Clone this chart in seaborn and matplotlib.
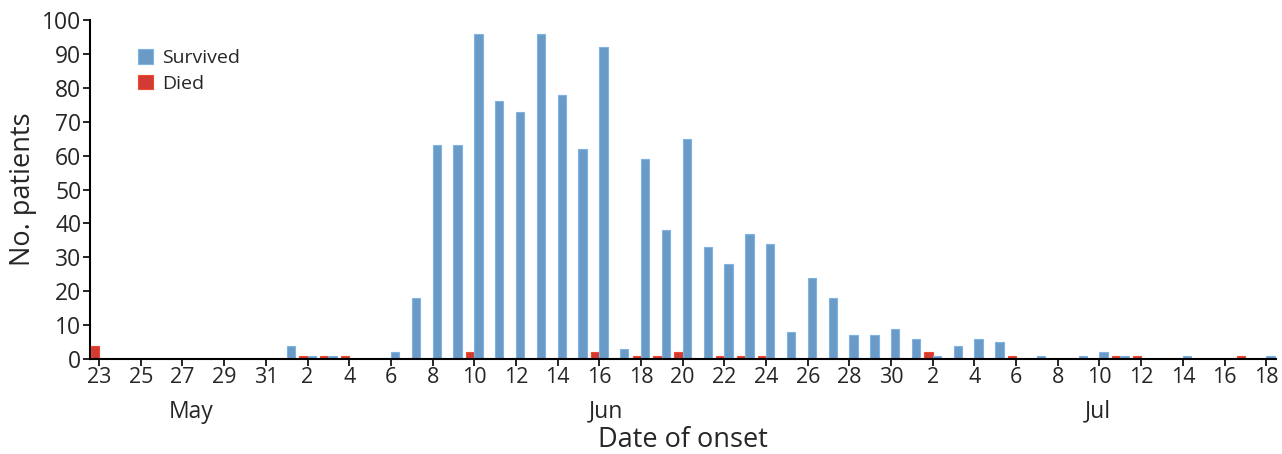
"""
Epidemic curve: patients by date of onset, survived vs. died.
"""

import pandas as pd
import numpy as np
import matplotlib
matplotlib.use("Agg")
import matplotlib.pyplot as plt
import seaborn as sns

# one value per day, May 23 .. Jul 18
dates = pd.date_range("2012-05-23", "2012-07-18", freq="D")

survived = [
    0, 0, 0, 0, 0, 0, 0, 0, 0,                      # May 23-31
    4, 1, 1, 0, 0, 2, 18, 63, 63, 96,               # Jun 1-10
    76, 73, 96, 78, 62, 92, 3, 59, 38, 65,          # Jun 11-20
    33, 28, 37, 34, 8, 24, 18, 7, 7, 9,             # Jun 21-30
    6, 1, 4, 6, 5, 0, 1, 0, 1, 2,                   # Jul 1-10
    1, 0, 0, 1, 0, 0, 0, 1,                         # Jul 11-18
]
died = [
    4, 0, 0, 0, 0, 0, 0, 0, 0,
    0, 1, 1, 1, 0, 0, 0, 0, 0, 2,
    0, 0, 0, 0, 0, 2, 0, 1, 1, 2,
    0, 1, 1, 1, 0, 0, 0, 0, 0, 0,
    0, 2, 0, 0, 0, 1, 0, 0, 0, 0,
    1, 1, 0, 0, 0, 0, 1, 0,
]

month_labels = ["May", "Jun", "Jul"]
month_label_days = [4.4, 24.3, 47.9]

colors = {"Survived": "#5B9BD5", "Died": "#EC2219"}

days = np.arange(len(dates))
df = pd.concat([
    pd.DataFrame({"day": days, "count": survived, "outcome": "Survived"}),
    pd.DataFrame({"day": days, "count": died, "outcome": "Died"}),
])
df = df[df["count"] > 0]

sns.set_style("white")
plt.rcParams["font.family"] = ["Open Sans", "DejaVu Sans"]

fig = plt.figure(figsize=(12.82, 4.54), dpi=100)
ax = fig.add_axes([0.070, 0.209, 0.925, 0.747])

sns.barplot(
    data=df, x="day", y="count", hue="outcome",
    hue_order=["Died", "Survived"], palette=colors,
    native_scale=True, width=0.8, errorbar=None,
    linewidth=0.8, ax=ax,
)
for bar in ax.patches:
    fc = bar.get_facecolor()
    bar.set_edgecolor("#7FB3E3" if fc[2] > 0.5 else "#F2492A")

ax.set_xlim(-0.45, 56.45)
ax.set_ylim(0, 100)
ax.set_yticks(range(0, 101, 10))
tick_days = days[::2]
ax.set_xticks(tick_days)
ax.set_xticklabels([str(d.day) for d in dates[::2]])
ax.tick_params(axis="both", direction="out", length=5,
               width=1.2, color="black", bottom=True, left=True, pad=1)
ax.tick_params(axis="x", labelsize=15.5)
ax.tick_params(axis="y", labelsize=16.5)

for s in ["top", "right"]:
    ax.spines[s].set_visible(False)
for s in ["left", "bottom"]:
    ax.spines[s].set_color("black")
    ax.spines[s].set_linewidth(1.5)

for lab, x in zip(month_labels, month_label_days):
    ax.text(x, -0.155, lab, transform=ax.get_xaxis_transform(),
            ha="center", va="center", fontsize=16.5)

ax.text(0.5, -0.26, "Date of onset", transform=ax.transAxes,
        ha="center", va="baseline", fontsize=19.5)
ax.set_xlabel("")
ax.set_ylabel("No. patients", fontsize=19.5, labelpad=4)

handles, labels = ax.get_legend_handles_labels()
order = [labels.index("Survived"), labels.index("Died")]
ax.legend([handles[i] for i in order], [labels[i] for i in order],
          loc="upper left", bbox_to_anchor=(0.026, 0.966), frameon=False,
          fontsize=14, handlelength=0.78, handleheight=0.78,
          handletextpad=0.45, labelspacing=0.4)

fig.savefig("out.png", dpi=100)
